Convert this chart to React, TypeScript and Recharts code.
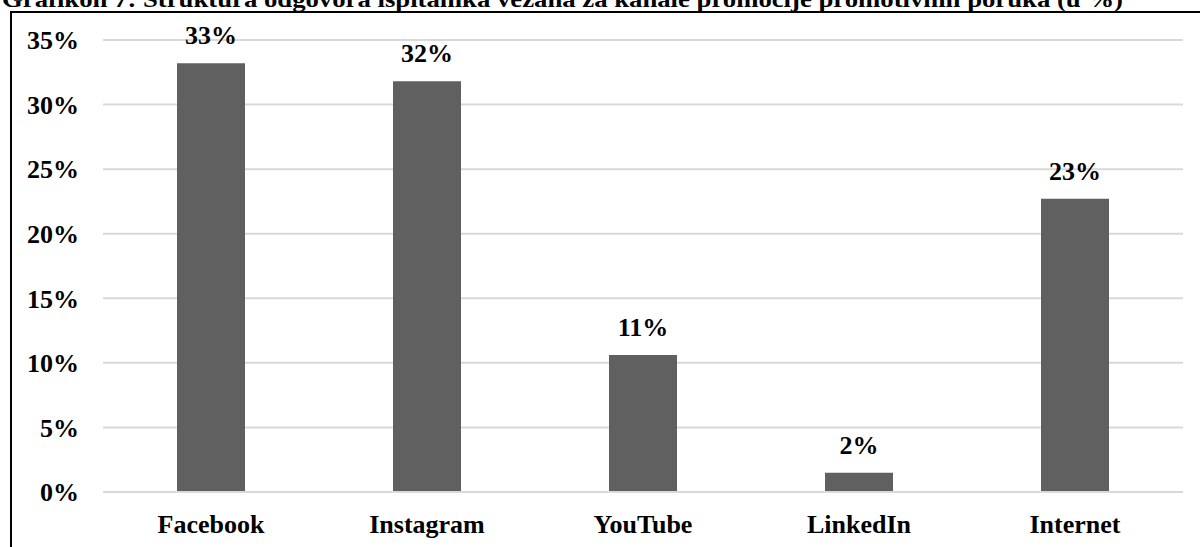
import React from "react";
import { BarChart, Bar, XAxis, YAxis, CartesianGrid, LabelList } from "recharts";

// Grafikon 7 – kanali promocije (u %)
const channels = ["Facebook", "Instagram", "YouTube", "LinkedIn", "Internet"];
const shares = [33.2, 31.8, 10.6, 1.5, 22.7];
const yTicks = [0, 5, 10, 15, 20, 25, 30, 35];

const title =
  "Grafikon 7: Struktura odgovora ispitanika vezana za kanale promocije promotivnih poruka (u %)";

const FONT = "Liberation Serif, Times New Roman, serif";

const data = channels.map((name, i) => ({ name, value: shares[i] }));

export default function App() {
  const tickStyle = { fontFamily: FONT, fontSize: 26, fontWeight: 700, fill: "#000" };

  return (
    <div
      style={{
        position: "absolute",
        left: 0,
        top: 0,
        width: 1200,
        height: 547,
        overflow: "hidden",
        background: "#fff",
      }}
    >
      {/* frame: only top and left edges are visible in the crop */}
      <div
        style={{
          position: "absolute",
          left: 10,
          top: 11,
          width: 1250,
          height: 600,
          borderTop: "2px solid #000",
          borderLeft: "2px solid #000",
        }}
      />
      <svg width={1200} height={20} style={{ position: "absolute", left: 0, top: 0 }}>
        <text
          x={2}
          y={7}
          fontFamily={FONT}
          fontSize={24}
          fontWeight={700}
          textLength={1121}
          lengthAdjust="spacingAndGlyphs"
        >
          {title}
        </text>
      </svg>
      <div style={{ position: "absolute", left: 0, top: 0 }}>
        <BarChart
          width={1200}
          height={547}
          data={data}
          margin={{ top: 40, right: 17, left: 13, bottom: 10 }}
        >
          <CartesianGrid vertical={false} stroke="#d9d9d9" strokeWidth={2} />
          <XAxis
            dataKey="name"
            height={45}
            axisLine={{ stroke: "#d9d9d9", strokeWidth: 2 }}
            tickLine={false}
            tickSize={0}
            tickMargin={23}
            tick={tickStyle}
            interval={0}
          />
          <YAxis
            width={90}
            domain={[0, 35]}
            ticks={yTicks}
            tickFormatter={(v) => `${v}%`}
            axisLine={false}
            tickLine={false}
            tickSize={0}
            tickMargin={24}
            tick={tickStyle}
          />
          <Bar dataKey="value" fill="#606060" barSize={68} isAnimationActive={false}>
            <LabelList
              dataKey="value"
              position="top"
              offset={19}
              formatter={(v: number) => `${Math.round(v)}%`}
              style={tickStyle}
            />
          </Bar>
        </BarChart>
      </div>
    </div>
  );
}
